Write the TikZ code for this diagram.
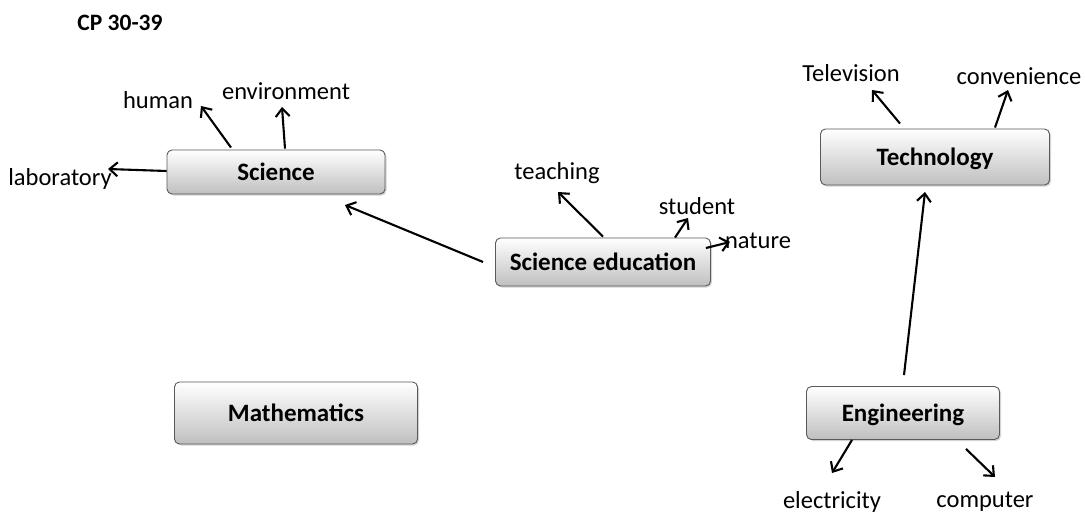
\documentclass[tikz,border=0pt]{standalone}
\usepackage{fontspec}
\setmainfont{Carlito}
\usetikzlibrary{arrows.meta,shadows}
\begin{document}
\begin{tikzpicture}[x=1pt,y=-1pt,
  box/.style={draw=black!65, line width=0.9pt, rounded corners=5pt,
    top color=white, bottom color=black!25,
    drop shadow={shadow xshift=1.5pt, shadow yshift=-1.5pt, opacity=0.35},
    font=\fontsize{25}{28}\selectfont\bfseries, inner sep=0pt, text depth=0pt},
  lbl/.style={font=\fontsize{24.5}{27}\selectfont, inner sep=0pt},
  arr/.style={line width=2.1pt, -{Straight Barb[length=8pt,width=14pt,line width=2.1pt]}}]
\useasboundingbox (0,0) rectangle (1085,515);

\node[font=\fontsize{23.5}{26}\selectfont\bfseries] (title) at (120,23) {CP 30-39};

% boxes
\node[box, minimum width=218pt, minimum height=44pt] (sci) at (276,172) {Science};
\node[box, minimum width=215pt, minimum height=48pt] (sed) at (603,262) {Science education};
\node[box, minimum width=229pt, minimum height=56pt] (tech) at (935,157) {Technology};
\node[box, minimum width=243pt, minimum height=62pt] (math) at (296,413) {Mathematics};
\node[box, minimum width=193pt, minimum height=53pt] (eng) at (903,413) {Engineering};

% labels
\node[lbl] (lab) at (60,179) {laboratory};
\node[lbl] (hum) at (158,100) {human};
\node[lbl] (env) at (286,91) {environment};
\node[lbl] (tea) at (557,173) {teaching};
\node[lbl] (stu) at (697,206) {student};
\node[lbl] (nat) at (758,241) {nature};
\node[lbl] (tel) at (851,73) {Television};
\node[lbl] (con) at (1019,76) {convenience};
\node[lbl] (ele) at (832,502) {electricity};
\node[lbl] (com) at (985,502) {computer};

% tips
\coordinate (labT) at (108,169);
\coordinate (humT) at (201,106);
\coordinate (envT) at (282,107);
\coordinate (sciT) at (345,205);
\coordinate (teaT) at (558,192);
\coordinate (stuT) at (688,218);
\coordinate (natT) at (730,242);
\coordinate (telT) at (872,90);
\coordinate (conT) at (1008,90);
\coordinate (techT) at (925,192);
\coordinate (eleT) at (832,473);
\coordinate (comT) at (995,477);

% connectors
\draw[arr] ([yshift=1]sci.west) -- (labT);
\draw[arr] ([xshift=-45,yshift=2]sci.north) -- (humT);
\draw[arr] ([xshift=9,yshift=1]sci.north) -- (envT);
\draw[arr] ([xshift=-12]sed.west) -- (sciT);
\draw[arr] ([yshift=1]sed.north) -- (teaT);
\draw[arr] ([xshift=72]sed.north) -- (stuT);
\draw[arr] ([xshift=-5,yshift=14]sed.east) -- (natT);
\draw[arr] ([xshift=-35,yshift=5]tech.north) -- (telT);
\draw[arr] ([xshift=60,yshift=1]tech.north) -- (conT);
\draw[arr] ([xshift=1,yshift=11]eng.north) -- (techT);
\draw[arr] ([xshift=-51]eng.south) -- (eleT);
\draw[arr] ([xshift=63,yshift=-9]eng.south) -- (comT);
\end{tikzpicture}
\end{document}
